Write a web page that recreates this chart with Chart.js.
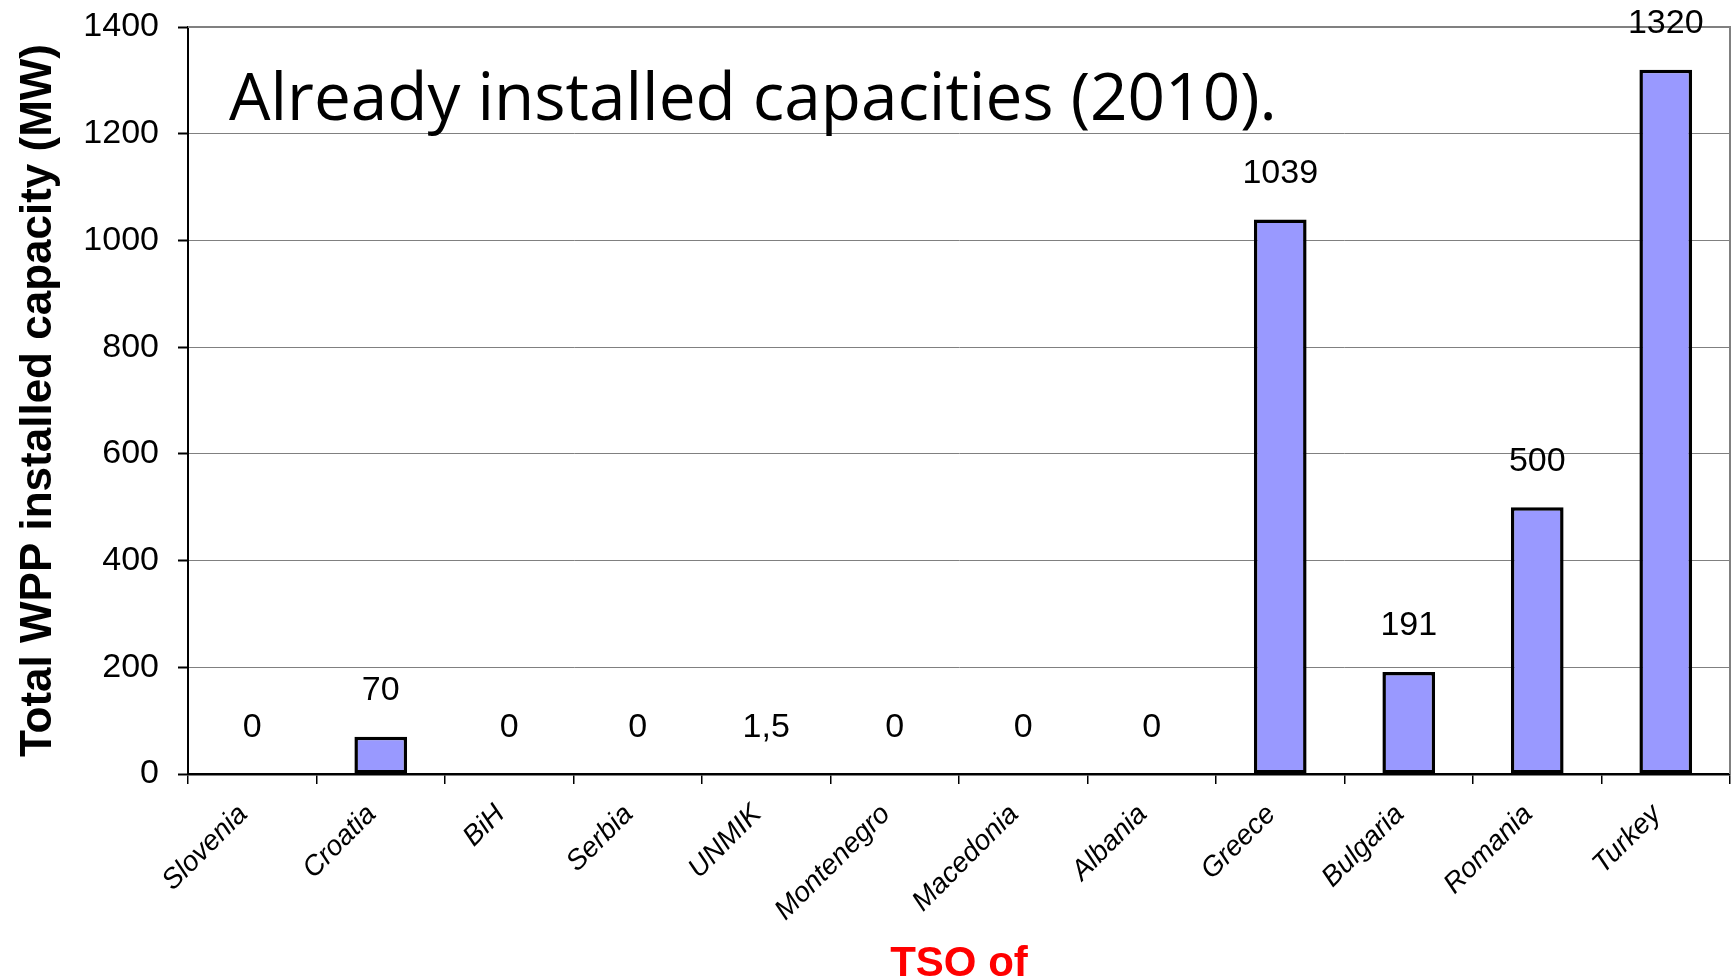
<!DOCTYPE html>
<html>
<head>
<meta charset="utf-8">
<script src="https://cdn.jsdelivr.net/npm/chart.js@4/dist/chart.umd.min.js"></script>
<style>
  html, body { margin: 0; padding: 0; background: #fff; }
  #wrap { width: 1733px; height: 979px; }
</style>
</head>
<body>
<div id="wrap"><canvas id="chart" width="1733" height="979"></canvas></div>
<script>
// データ
var categories = ['Slovenia', 'Croatia', 'BiH', 'Serbia', 'UNMIK', 'Montenegro', 'Macedonia', 'Albania', 'Greece', 'Bulgaria', 'Romania', 'Turkey'];
var capacity = [0, 70, 0, 0, 1.5, 0, 0, 0, 1039, 191, 500, 1320];
var yMin = 0, yMax = 1400, yStep = 200;
var headline = 'Already installed capacities (2010).';

// 枠線（上と右）
var framePlugin = {
  id: 'frame',
  beforeDatasetsDraw: function(chart) {
    var a = chart.chartArea, ctx = chart.ctx;
    ctx.save();
    ctx.strokeStyle = '#808080';
    ctx.lineWidth = 2;
    ctx.beginPath();
    ctx.moveTo(a.left, a.top);
    ctx.lineTo(a.right, a.top);
    ctx.lineTo(a.right, a.bottom);
    ctx.stroke();
    ctx.restore();
  }
};

// 値ラベル
var valuePlugin = {
  id: 'values',
  afterDatasetsDraw: function(chart) {
    var ctx = chart.ctx;
    var meta = chart.getDatasetMeta(0);
    ctx.save();
    ctx.font = '34px "Liberation Sans", Arial, sans-serif';
    ctx.fillStyle = '#000';
    ctx.textAlign = 'center';
    ctx.textBaseline = 'middle';
    meta.data.forEach(function(bar, i) {
      var txt = String(capacity[i]).replace('.', ',');
      ctx.fillText(txt, bar.x, bar.y - 46);
    });
    ctx.restore();
  }
};

// 見出し
var headlinePlugin = {
  id: 'headline',
  afterDraw: function(chart) {
    var ctx = chart.ctx;
    ctx.save();
    ctx.font = '70px "Open Sans", sans-serif';
    var w = ctx.measureText(headline).width;
    var size = 70 * 1048 / w;
    ctx.font = size + 'px "Open Sans", sans-serif';
    ctx.fillStyle = '#000';
    ctx.textAlign = 'left';
    ctx.textBaseline = 'alphabetic';
    ctx.fillText(headline, 229, 120);
    ctx.restore();
  }
};

var ctx = document.getElementById('chart');
var myChart = new Chart(ctx, {
  type: 'bar',
  data: {
    labels: categories,
    datasets: [{
      data: capacity,
      backgroundColor: '#9999FF',
      borderColor: '#000',
      borderWidth: 3.5,
      borderSkipped: false,
      categoryPercentage: 1,
      barPercentage: 0.41,
    }],
  },
  options: {
    responsive: false,
    animation: false,
    devicePixelRatio: 1,
    layout: { padding: { top: 27, right: 3, left: 0, bottom: 0 } },
    plugins: {
      legend: { display: false },
      tooltip: { enabled: false },
    },
    scales: {
      y: {
        min: yMin,
        max: yMax,
        afterFit: function(scale) {
          scale.width = 188;
          scale.paddingTop = 0;
          scale.paddingBottom = 0;
        },
        ticks: {
          stepSize: yStep,
          color: '#000',
          padding: 19,
          callback: function(v) { return String(v); },
          font: { family: '"Liberation Sans", Arial, sans-serif', size: 34 },
        },
        grid: {
          color: '#808080',
          lineWidth: 1,
          tickColor: '#000',
          tickLength: 10,
          tickWidth: 2,
        },
        border: { color: '#000', width: 2 },
        title: {
          display: true,
          text: 'Total WPP installed capacity (MW)',
          color: '#000',
          padding: { top: 12, bottom: 0 },
          font: { family: '"Liberation Sans", Arial, sans-serif', size: 44, weight: 'bold' },
        },
      },
      x: {
        afterFit: function(scale) { scale.height = 979 - 774; },
        ticks: {
          color: '#000',
          minRotation: 45,
          maxRotation: 45,
          padding: 14,
          labelOffset: -9,
          font: { family: '"Liberation Sans", Arial, sans-serif', size: 28, style: 'italic' },
        },
        grid: {
          offset: true,
          drawOnChartArea: false,
          drawTicks: true,
          tickLength: 10,
          color: '#000',
          lineWidth: 1.5,
        },
        border: { color: '#000', width: 2.5 },
        title: {
          display: true,
          text: 'TSO of',
          color: '#FF0000',
          padding: { top: 0, bottom: -6 },
          font: { family: '"Liberation Sans", Arial, sans-serif', size: 42, weight: 'bold', lineHeight: 1 },
        },
      },
    },
  },
  plugins: [framePlugin, valuePlugin, headlinePlugin],
});
</script>
</body>
</html>
